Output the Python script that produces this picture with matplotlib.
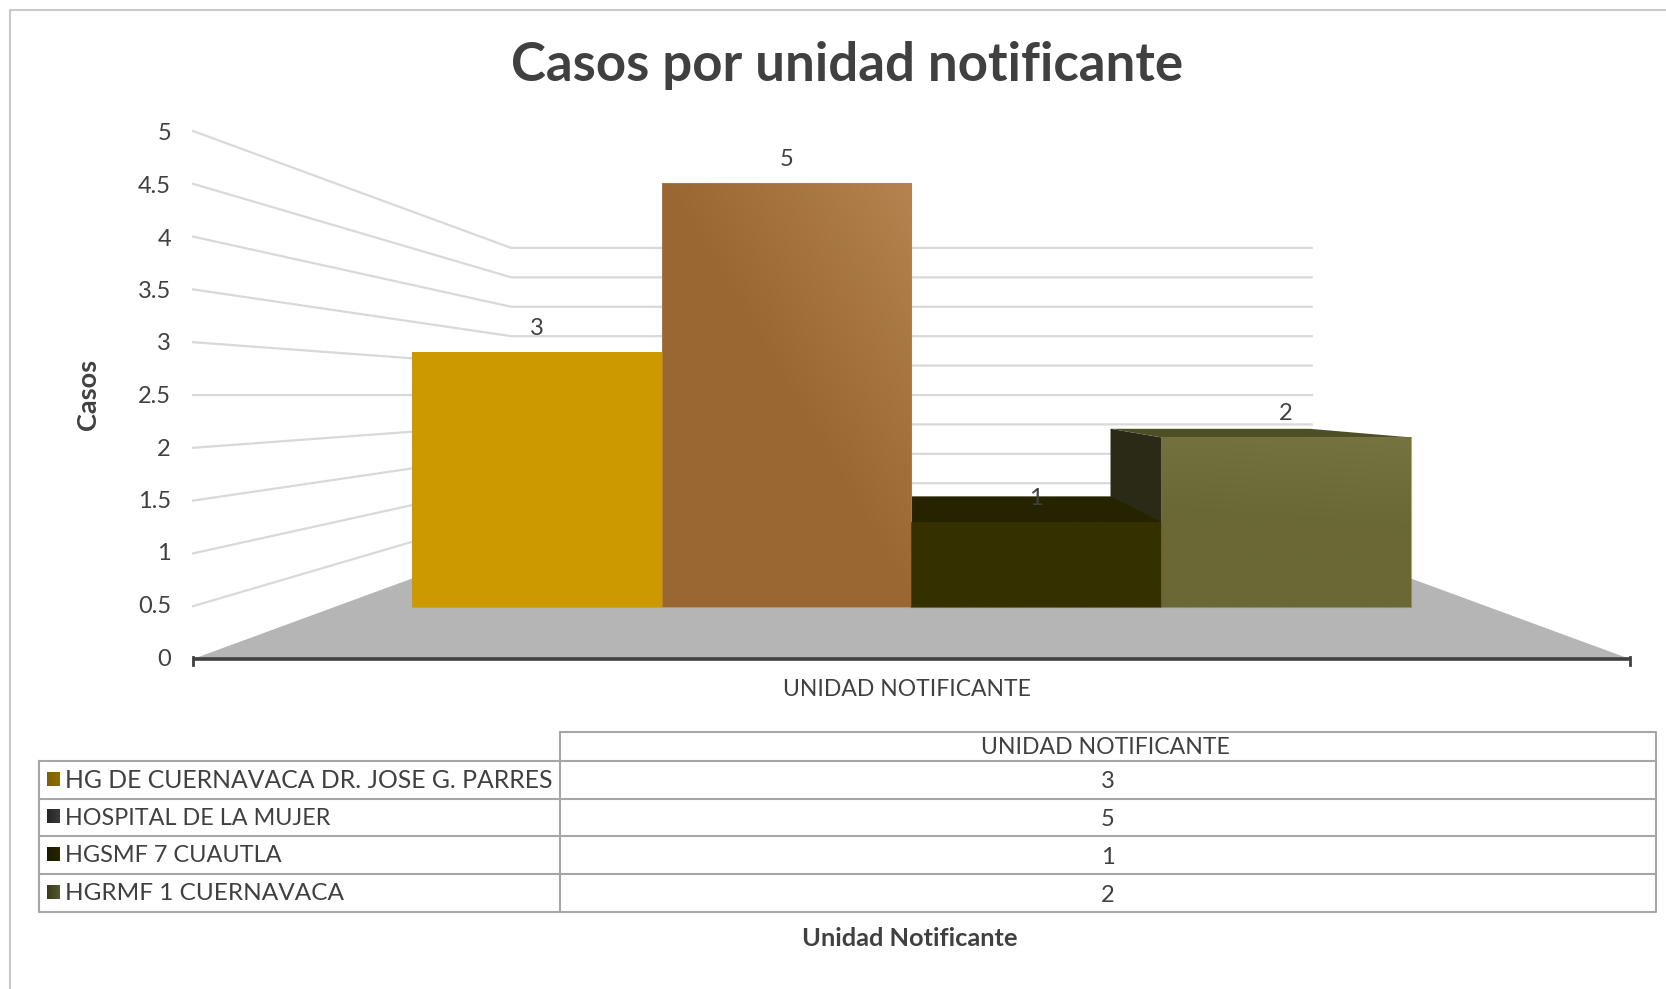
import matplotlib
matplotlib.use('Agg')
import matplotlib.pyplot as plt
from matplotlib.colors import LinearSegmentedColormap
import numpy as np

plt.rcParams['font.family'] = ['Lato', 'DejaVu Sans']

# data
units = ['HG DE CUERNAVACA DR. JOSE G. PARRES', 'HOSPITAL DE LA MUJER', 'HGSMF 7 CUAUTLA', 'HGRMF 1 CUERNAVACA']
cases = [3, 5, 1, 2]
ticks = [0, 0.5, 1, 1.5, 2, 2.5, 3, 3.5, 4, 4.5, 5]
front_low = ['#cc9900', '#9a6632', '#343000', '#6a6835']
front_high = ['#cc9900', '#b5834f', '#343000', '#75733f']
side_col = ['#7a5c00', '#5c3d1e', '#22200a', '#2a2a16']
top_col = ['#a37a00', '#7b5228', '#262400', '#4e4f26']
swatch_dark = ['#7f6000', '#262626', '#1a1a00', '#3a3c1c']
swatch_light = ['#8f6c08', '#3a3a3a', '#262600', '#55572f']
unit_sizes = [17.8, 16.8, 16.9, 17.6]

TXT = '#404040'
GRID = '#d9d9d9'
LINE = '#a6a6a6'

# perspective of the 3d box, pixels of the picture
CX = 911.5
HORIZON = 395
UNIT_X = 359.25
UNIT_Y = 105.6
FRONT_S = 1.0
BACK_S = 0.557
BAR_FRONT_S = 0.803
BAR_BACK_S = 0.64
BAR_UNIT_X = 311.0


def proj(x, v, s, ux=UNIT_X):
    return CX + x * ux * s, HORIZON + (264 - v * UNIT_Y) * s


def quad(a, b, c, d, col, z):
    pts = [a, b, c, d]
    ax.fill([p[0] for p in pts], [p[1] for p in pts], color=col, lw=0, zorder=z)


fig = plt.figure(figsize=(16.66, 9.89), dpi=100)
ax = fig.add_axes([0, 0, 1, 1])
ax.axis('off')

# outer frame
ax.plot([10, 10, 1666], [989, 10, 10], color='#c9c9c9', lw=1.5, zorder=1)

# gridlines on wall
for t in ticks[1:]:
    x0, y0 = proj(-2, t, FRONT_S)
    x1, y1 = proj(-2, t, BACK_S)
    x2, y2 = proj(2, t, BACK_S)
    ax.plot([x0, x1, x2], [y0, y1, y2], color=GRID, lw=1.6, zorder=2, solid_joinstyle='miter')

# floor
quad(proj(-2, 0, FRONT_S), proj(2, 0, FRONT_S), proj(2, 0, BACK_S), proj(-2, 0, BACK_S), '#b5b5b5', 3)

# bars, sides and tops first so the front faces go over them
for i, val in enumerate(cases):
    left = i - 2
    right = i - 1
    if val < 2.5:
        quad(proj(left, val, BAR_FRONT_S, BAR_UNIT_X), proj(right, val, BAR_FRONT_S, BAR_UNIT_X),
             proj(right, val, BAR_BACK_S, BAR_UNIT_X), proj(left, val, BAR_BACK_S, BAR_UNIT_X), top_col[i], 4 + i * 0.1)
    if left > 0:
        quad(proj(left, 0, BAR_FRONT_S, BAR_UNIT_X), proj(left, val, BAR_FRONT_S, BAR_UNIT_X),
             proj(left, val, BAR_BACK_S, BAR_UNIT_X), proj(left, 0, BAR_BACK_S, BAR_UNIT_X), side_col[i], 3.5)

for i, val in enumerate(cases):
    left = i - 2
    right = i - 1
    x0, y0 = proj(left, 0, BAR_FRONT_S, BAR_UNIT_X)
    x1, y1 = proj(right, val, BAR_FRONT_S, BAR_UNIT_X)
    cm = LinearSegmentedColormap.from_list('b' + str(i), [front_low[i], front_low[i], front_high[i]])
    gx, gy = np.meshgrid(np.linspace(0, 1, 60), np.linspace(0, 1, 60))
    # brown bar lights up towards the top right, olive one mostly upwards
    mix = gy * 0.9 + gx * 0.1 if i == 3 else gx * 0.5 + gy * 0.5
    ax.imshow(mix, extent=[x0, x1, y0, y1], origin='lower', cmap=cm, vmin=0, vmax=1,
              aspect='auto', zorder=5, interpolation='bilinear')
    ax.plot([x0, x0, x1, x1, x0], [y0, y1, y1, y0, y0], color=front_high[i], lw=0.8, alpha=0.6, zorder=5.1)
    ax.text((x0 + x1) / 2, y1 - 24, str(val), ha='center', va='center', fontsize=17, color=TXT, zorder=6)

# front axis
x0, y0 = proj(-2, 0, FRONT_S)
x1, y1 = proj(2, 0, FRONT_S)
ax.plot([x0, x1], [y0, y1], color=TXT, lw=2.6, zorder=7, solid_capstyle='butt')
ax.plot([x0, x0], [y0 - 2, y0 + 6], color=TXT, lw=2, zorder=7)
ax.plot([x1, x1], [y1 - 2, y1 + 6], color=TXT, lw=2, zorder=7)

# y tick labels
for t in ticks:
    xt, yt = proj(-2, t, FRONT_S)
    ax.text(171, yt + t * 0.6, '%g' % t, ha='right', va='center', fontsize=17, color=TXT)

ax.text(847, 65, 'Casos por unidad notificante', ha='center', va='center', fontsize=38, fontweight='bold', color=TXT)
ax.text(88, 394, 'Casos', rotation=90, ha='center', va='center', fontsize=19.5, fontweight='bold', color=TXT)
ax.text(907, 690, 'UNIDAD NOTIFICANTE', ha='center', va='center', fontsize=16.5, color=TXT)
ax.text(910, 939, 'Unidad Notificante', ha='center', va='center', fontsize=18.3, fontweight='bold', color=TXT)

# data table
rows_y = [761, 799, 836, 874, 912]
ax.plot([560, 1656, 1656, 560, 560], [732, 732, 912, 912, 732], color=LINE, lw=1.5, zorder=2)
ax.plot([39, 560], [761, 761], color=LINE, lw=1.5)
for ry in rows_y[1:-1]:
    ax.plot([39, 1656], [ry, ry], color=LINE, lw=1.5)
ax.plot([560, 1656], [761, 761], color=LINE, lw=1.5)
ax.plot([39, 39, 560], [761, 912, 912], color=LINE, lw=1.5)
ax.text(1105, 748, 'UNIDAD NOTIFICANTE', ha='center', va='center', fontsize=16.6, color=TXT)
for i, name in enumerate(units):
    yc = (rows_y[i] + rows_y[i + 1]) / 2
    cm = LinearSegmentedColormap.from_list('s' + str(i), [swatch_dark[i], swatch_light[i]])
    gx = np.linspace(0, 1, 16).reshape(1, -1)
    ax.imshow(gx, extent=[47, 60, yc + 6, yc - 8], cmap=cm, aspect='auto', zorder=3)
    ax.text(65, yc + 1, name, ha='left', va='center', fontsize=unit_sizes[i], color=TXT)
    ax.text(1108, yc + 2, str(cases[i]), ha='center', va='center', fontsize=17, color=TXT)

ax.set_xlim(0, 1666)
ax.set_ylim(989, 0)
fig.savefig('out.png', dpi=100, facecolor='white')
